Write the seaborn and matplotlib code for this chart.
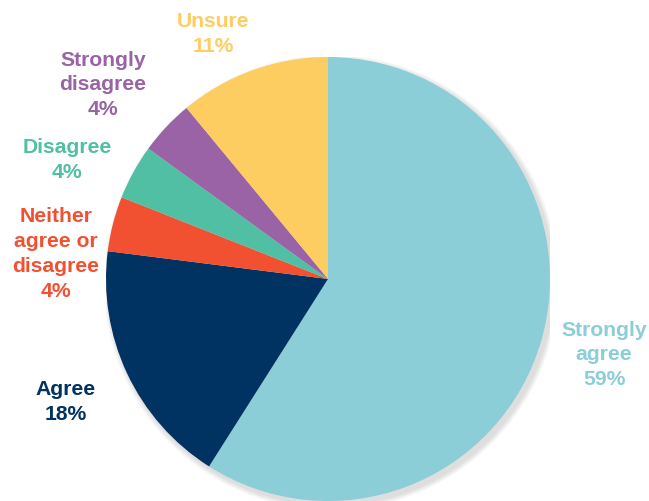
import matplotlib
matplotlib.use("Agg")
import matplotlib.pyplot as plt
from matplotlib.patches import Circle
import seaborn as sns

sns.set_theme(style="white")
plt.rcParams["font.family"] = ["Liberation Sans", "DejaVu Sans"]

# Survey responses (share of respondents, %)
categories = ["Strongly agree", "Agree", "Neither agree or disagree",
              "Disagree", "Strongly disagree", "Unsure"]
shares = [59, 18, 4, 4, 4, 11]
label_lines = ["Strongly\nagree", "Agree", "Neither\nagree or\ndisagree",
               "Disagree", "Strongly\ndisagree", "Unsure"]
colors = ["#8BCED8", "#003262", "#F15131", "#51BFA4", "#9963A6", "#FECD62"]

# Label centres in pixel coordinates of the 649x501 canvas
label_px = [(604, 355), (66, 402), (56, 254), (67, 160), (103, 85), (213, 34)]

W, H = 649, 501
fig = plt.figure(figsize=(W / 100, H / 100), dpi=100)
cx, cy, r = 328, 279, 222
ax = fig.add_axes([(cx - r) / W, (H - cy - r) / H, 2 * r / W, 2 * r / H])

# soft shadow beneath the pie
for k in range(5):
    ax.add_patch(Circle((0.014, -0.016), 1.0 + 0.005 * (5 - k), color="#777777",
                        alpha=0.05, lw=0, zorder=0))

ax.pie(shares, colors=colors, startangle=90, counterclock=False,
       radius=1.0, wedgeprops=dict(linewidth=0, zorder=1))
ax.set_xlim(-1, 1)
ax.set_ylim(-1, 1)
ax.set_aspect("equal")
ax.axis("off")

for text, val, col, (px, py) in zip(label_lines, shares, colors, label_px):
    fig.text(px / W, 1 - py / H, f"{text}\n{val}%", color=col, fontsize=15.2,
             fontweight="bold", ha="center", va="center", linespacing=1.38)

fig.savefig("out.png", dpi=100)
